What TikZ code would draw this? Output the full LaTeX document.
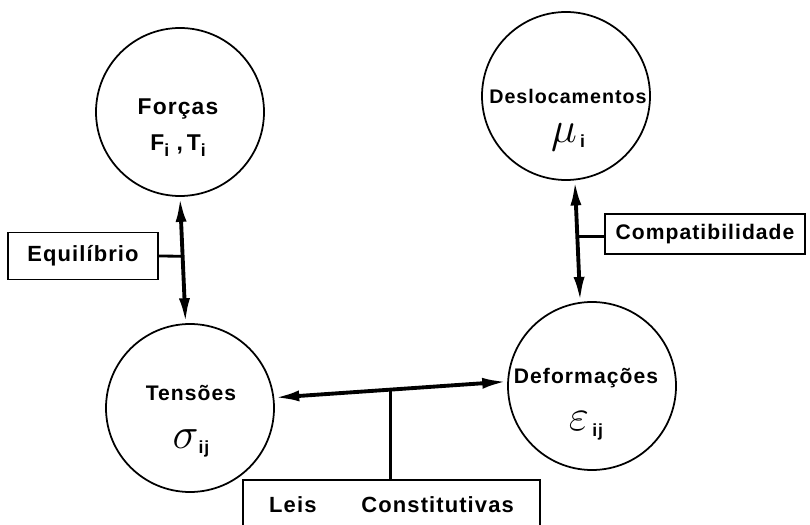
\documentclass[tikz,border=0pt]{standalone}
\usepackage{fontspec}
\setmainfont{Liberation Sans}[LetterSpace=5]
\usetikzlibrary{arrows.meta,positioning,calc}

\newcommand{\idx}[1]{\raisebox{-0.5ex}{\normalsize #1}}
\newcommand{\bigsym}[1]{{\fontsize{24}{24}\selectfont$#1$}}

\begin{document}
\begin{tikzpicture}[
    ball/.style={draw,circle,line width=1pt,minimum size=3.36cm,inner sep=0pt},
    lbl/.style={align=center,font=\bfseries\fontsize{12}{14}\selectfont},
    tag/.style={draw,line width=1.1pt,font=\bfseries\fontsize{12.5}{15}\selectfont,inner sep=0pt},
    link/.style={line width=2.2pt,{Latex[length=5mm,width=2.2mm]}-{Latex[length=5mm,width=2.2mm]}},
    tie/.style={line width=1.6pt}
  ]
    \useasboundingbox (0,0) rectangle (16.2,10.48);

    % the four states
    \node[ball] (forcas) at (3.6,8.24)   {};
    \node[ball] (desloc) at (11.32,8.56) {};
    \node[ball] (tensoes) at (3.8,2.32)  {};
    \node[ball] (deform) at (11.84,2.76) {};

    \node[lbl,font=\bfseries\fontsize{13}{15}\selectfont] (forcasT) at (3.56,7.93) {Forças\\[0.2cm] F\idx{i} ,\,T\idx{i}};
    \node[lbl,font=\bfseries\fontsize{11.2}{14}\selectfont] (deslocT) at (11.36,8.08) {Deslocamentos\\[0.3cm] \bigsym{\mu}\,\idx{i}};
    \node[lbl] (tensoesT) at (3.82,2.05) {Tensões\\[0.45cm] \bigsym{\sigma}\idx{ij}};
    \node[lbl] (deformT) at (11.72,2.4) {Deformações\\[0.45cm] \bigsym{\varepsilon}\,\idx{ij}};

    % relations
    \draw[link] (forcas.-90) -- (tensoes.93);
    \draw[link] (desloc.-84) -- (deform.98);
    \draw[link] (tensoes.7) -- (deform.177);

    \coordinate (eqjoin)   at ($(forcas.-90)!0.47!(tensoes.93)$);
    \coordinate (compjoin) at ($(desloc.-84)!0.46!(deform.98)$);
    \coordinate (leisjoin) at ($(tensoes.7)!0.5!(deform.177)$);

    \node[tag,minimum width=3cm,minimum height=0.94cm]  (equil)  at (1.66,5.36) {Equilíbrio};
    \node[tag,minimum width=4cm,minimum height=0.8cm,font=\bfseries\fontsize{12}{15}\selectfont] (compat) at (14.1,5.8) {Compatibilidade};
    \node[tag,minimum width=5.94cm,minimum height=1cm]  (leis)   at (7.83,0.38) {Leis\hspace{0.9cm}Constitutivas};

    \draw[tie] (equil.east) -- (eqjoin);
    \draw[tie] (compjoin) -- (compjoin -| compat.west);
    \draw[tie] (leisjoin) -- (leisjoin |- leis.north);
  \end{tikzpicture}
\end{document}
